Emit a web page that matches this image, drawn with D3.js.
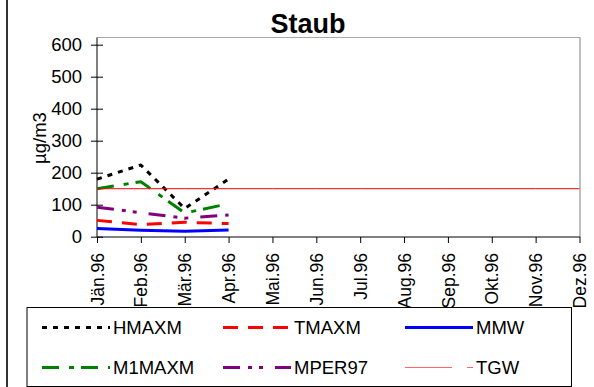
<!DOCTYPE html>
<html><head><meta charset="utf-8">
<script src="https://cdn.jsdelivr.net/npm/d3@7"></script>
<style>html,body{margin:0;padding:0;background:#fff;overflow:hidden}</style>
</head><body>
<svg id="c" width="594" height="387"></svg>
<script>
const months = ["Jän.96","Feb.96","Mär.96","Apr.96","Mai.96","Jun.96","Jul.96","Aug.96","Sep.96","Okt.96","Nov.96","Dez.96"];
const yTicks = [0,100,200,300,400,500,600];
const HMAXM  = [180, 224, 88, 180];
const TMAXM  = [51, 38, 45, 41];
const MMW    = [26, 20, 17, 21];
const M1MAXM = [150, 172, 74, 103];
const MPER97 = [92, 75, 58, 68];
const TGW    = [150,150,150,150,150,150,150,150,150,150,150,150];
const seriesNames = ["HMAXM","TMAXM","MMW","M1MAXM","MPER97","TGW"];

const series = [
  {name:"HMAXM", values:HMAXM, color:"#000000", w:3, dash:"5,6"},
  {name:"TMAXM", values:TMAXM, color:"#ff0000", w:3, dash:"15,10"},
  {name:"MMW", values:MMW, color:"#0000ff", w:3, dash:null},
  {name:"M1MAXM", values:M1MAXM, color:"#008000", w:3, dash:"17,10,5,7"},
  {name:"MPER97", values:MPER97, color:"#800080", w:3, dash:"17,8,4,7,4,12"},
  {name:"TGW", values:TGW, color:"#ff0000", w:1, dash:null}
];

const svg = d3.select("#c");
const font = "Liberation Sans, Arial, sans-serif";
const x = d3.scalePoint().domain(months).range([97, 579.5]);
const y = d3.scaleLinear().domain([0,600]).range([236.7, 44.7]);

// outer border (left edge visible)
svg.append("line").attr("x1",7).attr("x2",7).attr("y1",0).attr("y2",387)
  .attr("stroke","#333").attr("stroke-width",2);

// plot frame top/right
svg.append("line").attr("x1",97).attr("x2",580).attr("y1",37.5).attr("y2",37.5).attr("stroke","#a8a8a8").attr("stroke-width",1);
svg.append("line").attr("x1",580).attr("x2",580).attr("y1",37.5).attr("y2",237).attr("stroke","#808080").attr("stroke-width",1);

// title
svg.append("text").attr("x",308).attr("y",33).attr("text-anchor","middle")
  .attr("font-family",font).attr("font-size",27).attr("font-weight","bold").text("Staub");

// y axis
const yAxis = svg.append("g").attr("transform","translate(97,0)")
  .call(d3.axisLeft(y).tickValues(yTicks).tickSize(6).tickPadding(9));
yAxis.select(".domain").remove();
yAxis.append("line").attr("x1",0).attr("x2",0).attr("y1",37.5).attr("y2",237).attr("stroke","#000");
yAxis.selectAll(".tick line").attr("x1",-6).attr("x2",6).attr("stroke","#000");
yAxis.selectAll(".tick text").attr("font-family",font).attr("font-size",18.5).attr("fill","#000").attr("x",-15);

// x axis
const xAxis = svg.append("g").attr("transform","translate(0,237)")
  .call(d3.axisBottom(x).tickSize(6).tickPadding(3));
xAxis.select(".domain").remove();
xAxis.append("line").attr("x1",97).attr("x2",580).attr("y1",0).attr("y2",0).attr("stroke","#000");
xAxis.selectAll(".tick line").attr("stroke","#000");
xAxis.selectAll(".tick text")
  .attr("font-family",font).attr("font-size",17.5).attr("fill","#000")
  .attr("transform","rotate(-90)").attr("text-anchor","end")
  .attr("x",-16).attr("y",0).attr("dy","0.35em");

// y title
svg.append("text").attr("transform","translate(46,138) rotate(-90)").attr("text-anchor","middle")
  .attr("font-family",font).attr("font-size",18.5).text("µg/m3");

// lines
const line = d3.line().x((d,i)=>x(months[i])).y(d=>y(d));
const lg = svg.append("g");
series.forEach(s=>{
  lg.append("path").datum(s.values).attr("d",line).attr("fill","none")
    .attr("stroke",s.color).attr("stroke-width",s.w)
    .attr("stroke-dasharray",s.dash).attr("stroke-linejoin","round");
});

// legend
const leg = svg.append("g");
leg.append("rect").attr("x",27).attr("y",307.5).attr("width",544.5).attr("height",79)
  .attr("fill","#fff").attr("stroke","#000").attr("stroke-width",1);
const cols = [42, 223, 405];
const rows = [327.5, 367.5];
series.forEach((s,i)=>{
  const cx = cols[i%3], cy = rows[Math.floor(i/3)];
  leg.append("line").attr("x1",cx).attr("x2",cx+68).attr("y1",cy).attr("y2",cy)
    .attr("stroke", s.name==="TGW" ? "#ff6666" : s.color).attr("stroke-width",s.w)
    .attr("stroke-dasharray", s.name==="TGW" ? "47,15,6" : s.dash);
  leg.append("text").attr("x",cx+71).attr("y",cy).attr("dy","0.35em")
    .attr("font-family",font).attr("font-size",18.5).text(seriesNames[i]);
});
</script>
</body></html>
